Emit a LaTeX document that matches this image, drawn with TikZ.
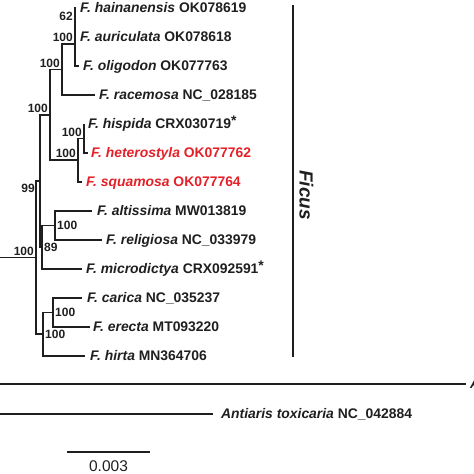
\documentclass[tikz,border=0pt]{standalone}
\usepackage{fontspec}
\setmainfont{Liberation Sans}
\usetikzlibrary{positioning}
\definecolor{ink}{gray}{0.12}
\definecolor{newred}{RGB}{228,32,40}
\begin{document}
\begin{tikzpicture}[x=1pt,y=-1pt,
    branch/.style={line width=1.2pt,draw=ink},
    taxon/.style={inner sep=0pt,text=ink,font=\fontsize{13.9}{14}\selectfont\bfseries,text height=9.9pt,text depth=0pt},
    boot/.style={inner sep=2pt,text=ink,font=\fontsize{12}{12}\selectfont\bfseries}]
    \useasboundingbox (0,0) rectangle (474,474);
    \clip (0,0) rectangle (474,474);
    % inner nodes
    \coordinate (root) at (0,257.5);
    \coordinate (nR) at (36,257.5);
    \coordinate (n99) at (40,181);
    \coordinate (nU) at (50,115);
    \coordinate (nA) at (62,69.5);
    \coordinate (nB) at (75,44);
    \coordinate (n62) at (75,22.5);
    \coordinate (nH) at (78,160);
    \coordinate (nHH) at (84,138.5);
    \coordinate (n89) at (42,247);
    \coordinate (nAR) at (55,225.5);
    \coordinate (nCE) at (43,334);
    \coordinate (nCar) at (53,312.5);
    % tips
    \coordinate (thain) at (76,8);
    \coordinate (tauri) at (76,37);
    \coordinate (tolig) at (79,66);
    \coordinate (trace) at (95,95);
    \coordinate (thisp) at (84,124);
    \coordinate (thete) at (88,153);
    \coordinate (tsqua) at (82,182);
    \coordinate (talti) at (92,211);
    \coordinate (treli) at (102,240);
    \coordinate (tmicr) at (82,269);
    \coordinate (tcari) at (82,298);
    \coordinate (terec) at (90,327);
    \coordinate (thirt) at (85,356);
    % branches
    \draw[branch] (root) -- (nR);
    \draw[branch] (nR) |- (n99); \draw[branch] (nR) |- (nCE);
    \draw[branch] (n99) |- (nU); \draw[branch] (n99) |- (n89);
    \draw[branch] (nU) |- (nA); \draw[branch] (nU) |- (nH);
    \draw[branch] (nA) |- (nB); \draw[branch] (nA) |- (trace);
    \draw[branch] (nB) |- (n62); \draw[branch] (nB) |- (tolig);
    \draw[branch] (n62) |- (thain); \draw[branch] (n62) |- (tauri);
    \draw[branch] (nH) |- (nHH); \draw[branch] (nH) |- (tsqua);
    \draw[branch] (nHH) |- (thisp); \draw[branch] (nHH) |- (thete);
    \draw[branch] (n89) |- (nAR); \draw[branch] (n89) |- (tmicr);
    \draw[branch] (nAR) |- (talti); \draw[branch] (nAR) |- (treli);
    \draw[branch] (nCE) |- (nCar); \draw[branch] (nCE) |- (thirt);
    \draw[branch] (nCar) |- (tcari); \draw[branch] (nCar) |- (terec);
    % taxa
    \node[taxon, right=4pt of thain] (lhain) {\textit{F. hainanensis} OK078619};
    \node[taxon, right=4pt of tauri] (lauri) {\textit{F. auriculata} OK078618};
    \node[taxon, right=4pt of tolig] (lolig) {\textit{F. oligodon} OK077763};
    \node[taxon, right=4pt of trace] (lrace) {\textit{F. racemosa} NC\_028185};
    \node[taxon, right=4pt of thisp] (lhisp) {\textit{F. hispida} CRX030719\raisebox{3.5pt}{*}};
    \node[taxon, right=3pt of thete, text=newred] (lhete) {\textit{F. heterostyla} OK077762};
    \node[taxon, right=4pt of tsqua, text=newred] (lsqua) {\textit{F. squamosa} OK077764};
    \node[taxon, right=5pt of talti] (lalti) {\textit{F. altissima} MW013819};
    \node[taxon, right=4pt of treli] (lreli) {\textit{F. religiosa} NC\_033979};
    \node[taxon, right=4pt of tmicr] (lmicr) {\textit{F. microdictya} CRX092591\raisebox{3.5pt}{*}};
    \node[taxon, right=5pt of tcari] (lcari) {\textit{F. carica} NC\_035237};
    \node[taxon, right=3pt of terec] (lerec) {\textit{F. erecta} MT093220};
    \node[taxon, right=5pt of thirt] (lhirt) {\textit{F. hirta} MN364706};
    % support values
    \node[boot, above left] (bR) at (nR) {100};
    \node[boot, anchor=north east] (b99) at ([xshift=-3pt,yshift=-1pt]n99) {99};
    \node[boot, above left] (bU) at (nU) {100};
    \node[boot, above left] (bA) at (nA) {100};
    \node[boot, above left] (bB) at (nB) {100};
    \node[boot, above left] (b62) at (n62) {62};
    \node[boot, above left] (bH) at (nH) {100};
    \node[boot, above left] (bHH) at (nHH) {100};
    \node[boot, right] (b89) at (n89) {89};
    \node[boot, right] (bAR) at (nAR) {100};
    \node[boot, right] (bCE) at (nCE) {100};
    \node[boot, right] (bCar) at (nCar) {100};
    % genus bar
    \coordinate (ftop) at (293,5);
    \coordinate (fbot) at (293,357);
    \draw[branch, line width=1.4pt] (ftop) -- (fbot);
    \node[text=ink, rotate=-90, font=\fontsize{19}{20}\selectfont\bfseries\itshape] (lficus) at (306.5,195) {Ficus};
    % outgroups
    \coordinate (oroot1) at (0,384);
    \coordinate (otip1) at (466,384);
    \draw[branch, line width=1.4pt] (oroot1) -- (otip1);
    \node[taxon, right=4pt of otip1] (lout) {\textit{A}};
    \coordinate (oroot2) at (0,414);
    \coordinate (otip2) at (213,414);
    \draw[branch, line width=1.4pt] (oroot2) -- (otip2);
    \node[taxon, right=8pt of otip2] (lanti) {\textit{Antiaris toxicaria} NC\_042884};
    % scale bar
    \coordinate (sleft) at (67,452);
    \coordinate (sright) at (150,452);
    \draw[branch, line width=1.4pt] (sleft) -- (sright);
    \node[text=ink, font=\fontsize{15.5}{16}\selectfont] (lscale) at (108.5,466) {0.003};
\end{tikzpicture}
\end{document}
